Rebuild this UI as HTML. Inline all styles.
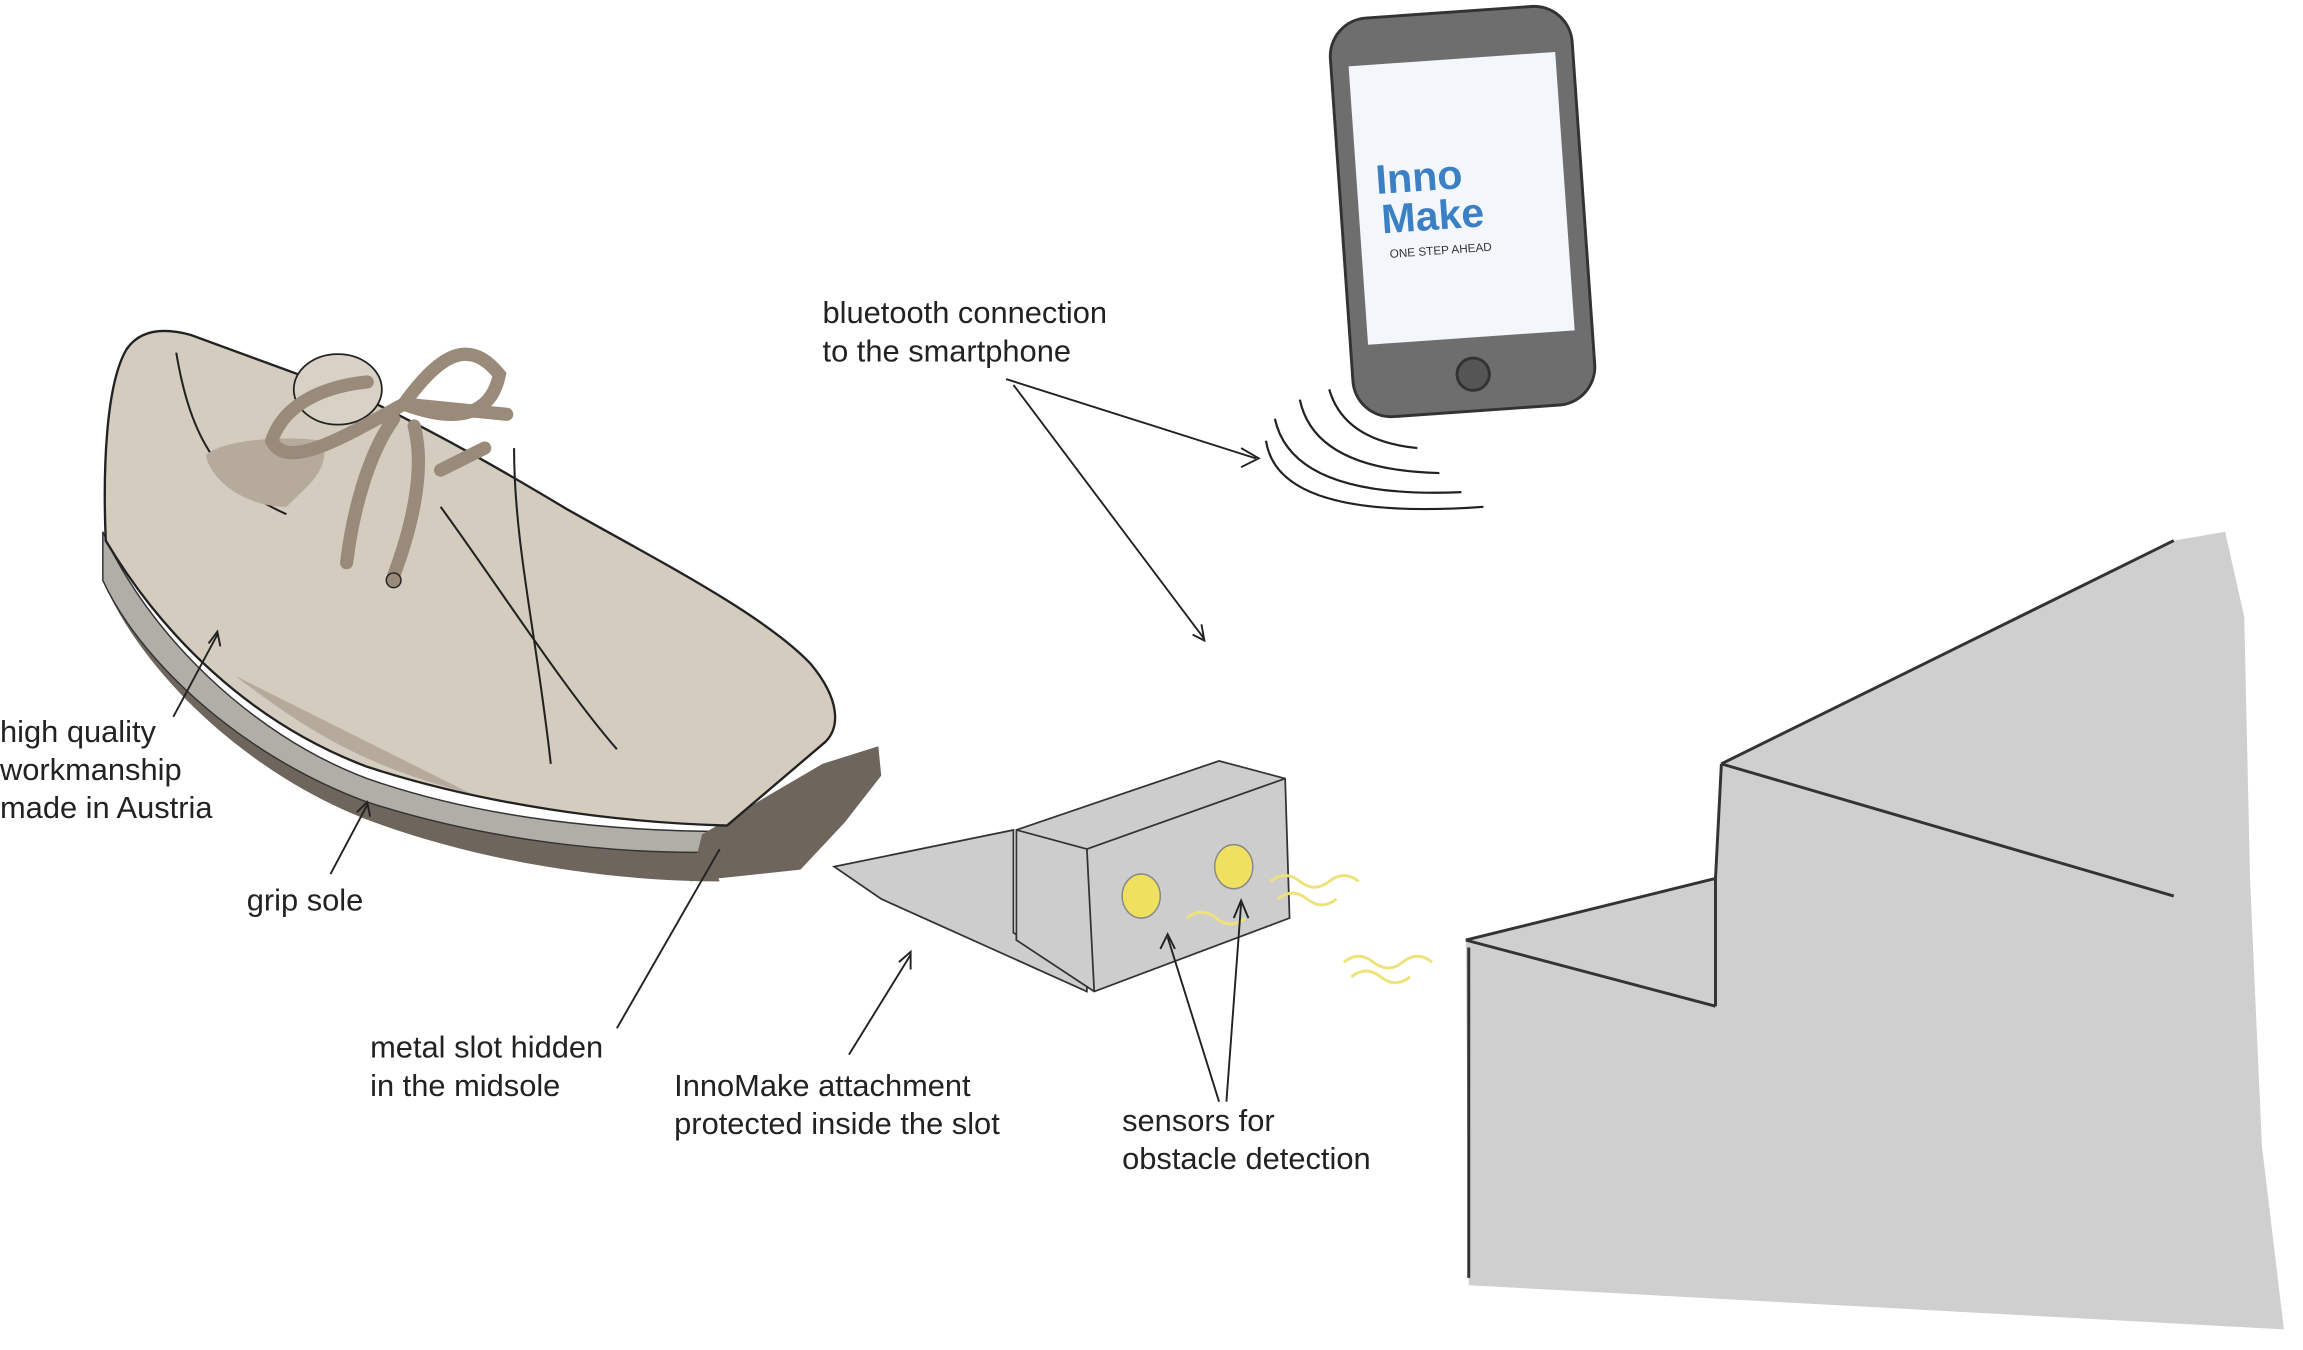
<!DOCTYPE html>
<html><head><meta charset="utf-8"><style>
html,body{margin:0;padding:0;background:#fff;width:2303px;height:1350px;overflow:hidden}
svg{display:block}
text{font-family:"Liberation Sans",sans-serif;font-size:21px;fill:#222}
</style></head><body>
<svg width="2303" height="1350" viewBox="0 0 1568 919" xmlns="http://www.w3.org/2000/svg">
<!-- stairs -->
<path d="M998,640 L1168,598 L1172,520 L1480,368 L1515,362 L1528,420 L1532,600 L1540,780 L1555,905 L1000,875 Z" fill="#cfcfcf"/>
<path d="M998,640 L1168,598 M1168,598 L1172,520 M1172,520 L1480,368 M998,640 L1168,685 M1168,685 L1168,598 M1172,520 L1480,610 M1000,645 L1000,870" stroke="#333" stroke-width="2" fill="none"/>
<!-- phone -->
<g transform="rotate(-4 995 140)">
<rect x="913" y="8" width="165" height="272" rx="26" fill="#6e6e6e" stroke="#333" stroke-width="2"/>
<rect x="925" y="40" width="141" height="190" fill="#f3f7fc"/>
<circle cx="995" cy="255" r="11" fill="#555" stroke="#333" stroke-width="2"/>
<text x="938" y="128" style="font-size:28px;font-weight:bold;fill:#3b7fc4">Inno</text>
<text x="940" y="155" style="font-size:28px;font-weight:bold;fill:#3b7fc4">Make</text>
<text x="944" y="172" style="font-size:8px;fill:#333">ONE STEP AHEAD</text>
</g>
<!-- bluetooth waves -->
<g stroke="#222" stroke-width="1.5" fill="none">
<path d="M905,265 Q915,300 965,305"/><path d="M885,272 Q895,320 980,322"/><path d="M868,285 Q880,340 995,335"/><path d="M862,300 Q870,355 1010,345"/>
</g>
<!-- shoe -->
<path d="M70,395 C95,455 165,525 250,558 C330,588 420,600 490,600 L480,575 C420,575 330,565 250,540 C170,510 100,445 72,385 Z" fill="#6e655d"/>
<path d="M70,362 C100,430 170,500 250,530 C330,558 420,566 495,566 L492,580 C420,582 330,572 250,546 C165,515 95,450 70,395 Z" fill="#b1ada7" stroke="#333" stroke-width="1"/>
<path d="M478,568 L560,520 L598,508 L600,528 L575,560 L545,592 L470,600 Z" fill="#6e655d"/>
<path d="M72,368 C70,320 72,262 86,238 C94,226 108,222 130,228 L250,272 C300,296 345,322 385,346 C445,380 520,418 552,452 C572,476 572,495 562,505 L495,562 C420,560 330,548 250,522 C170,492 110,432 72,368 Z" fill="#d3ccbf" stroke="#222" stroke-width="1.6"/>
<path d="M120,240 C130,300 150,330 195,350 M300,345 C340,400 385,470 420,510 M350,305 C350,370 365,430 375,520" stroke="#222" stroke-width="1.4" fill="none"/>
<path d="M160,460 C200,490 240,520 320,540 M140,310 C150,300 190,296 220,300 C225,320 210,330 195,345 C170,345 145,330 140,310 Z" fill="#b5aa9b" stroke="none"/>
<ellipse cx="230" cy="265" rx="30" ry="24" fill="#d8d1c5" stroke="#222" stroke-width="1.2"/>
<g fill="none" stroke="#9a8a7a" stroke-width="9" stroke-linecap="round">
<path d="M250,260 C230,262 195,270 185,300 C195,320 230,300 275,275"/>
<path d="M275,275 C300,240 320,230 340,255 C335,280 315,290 275,275"/>
<path d="M275,275 L345,282"/>
<path d="M268,285 C250,310 240,350 236,383"/>
<path d="M282,290 C290,320 280,360 268,392"/>
<path d="M300,320 L330,305"/>
</g>
<circle cx="268" cy="395" r="5" fill="#9a8a7a" stroke="#222"/>
<!-- attachment -->
<path d="M568,590 L690,565 L690,635 L740,665 L740,675 L600,612 Z" fill="#cdcdcd" stroke="#333" stroke-width="1.2"/>
<path d="M692,565 L830,518 L875,530 L878,625 L745,675 L692,640 Z" fill="#cdcdcd" stroke="#333" stroke-width="1.2"/>
<path d="M692,565 L740,578 L745,675 M740,578 L875,530" stroke="#333" stroke-width="1.2" fill="none"/>
<ellipse cx="777" cy="610" rx="13" ry="15" fill="#f0e060" stroke="#888"/>
<ellipse cx="840" cy="590" rx="13" ry="15" fill="#f0e060" stroke="#888"/>
<g stroke="#eee27a" stroke-width="2" fill="none">
<path d="M865,600 q10,-8 20,0 t20,0 t20,0"/><path d="M870,612 q10,-8 20,0 t20,0"/>
<path d="M915,655 q10,-8 20,0 t20,0 t20,0"/><path d="M920,665 q10,-8 20,0 t20,0"/>
<path d="M808,625 q10,-8 20,0 t20,0"/>
</g>
<!-- connectors -->
<g stroke="#222" stroke-width="1.3" fill="none">
<path d="M685,258 L855,312 M845,305 L857,312 L845,318"/>
<path d="M690,262 L820,435 M812,432 L820,436 L818,425"/>
<path d="M118,488 L148,432 M142,438 L148,430 L150,440"/>
<path d="M225,595 L250,548 M243,553 L250,546 L252,556"/>
<path d="M420,700 L490,578"/>
<path d="M578,718 L620,650 M612,655 L620,648 L620,660"/>
<path d="M830,750 L795,638 M790,646 L795,636 L800,646"/>
<path d="M835,750 L845,615 M840,625 L845,613 L850,625"/>
</g>
<!-- labels -->
<text x="560" y="220">bluetooth connection</text>
<text x="560" y="246">to the smartphone</text>
<text x="0" y="505">high quality</text>
<text x="0" y="531">workmanship</text>
<text x="0" y="557">made in Austria</text>
<text x="168" y="620">grip sole</text>
<text x="252" y="720">metal slot hidden</text>
<text x="252" y="746">in the midsole</text>
<text x="459" y="746">InnoMake attachment</text>
<text x="459" y="772">protected inside the slot</text>
<text x="764" y="770">sensors for</text>
<text x="764" y="796">obstacle detection</text>
</svg>
</body></html>
